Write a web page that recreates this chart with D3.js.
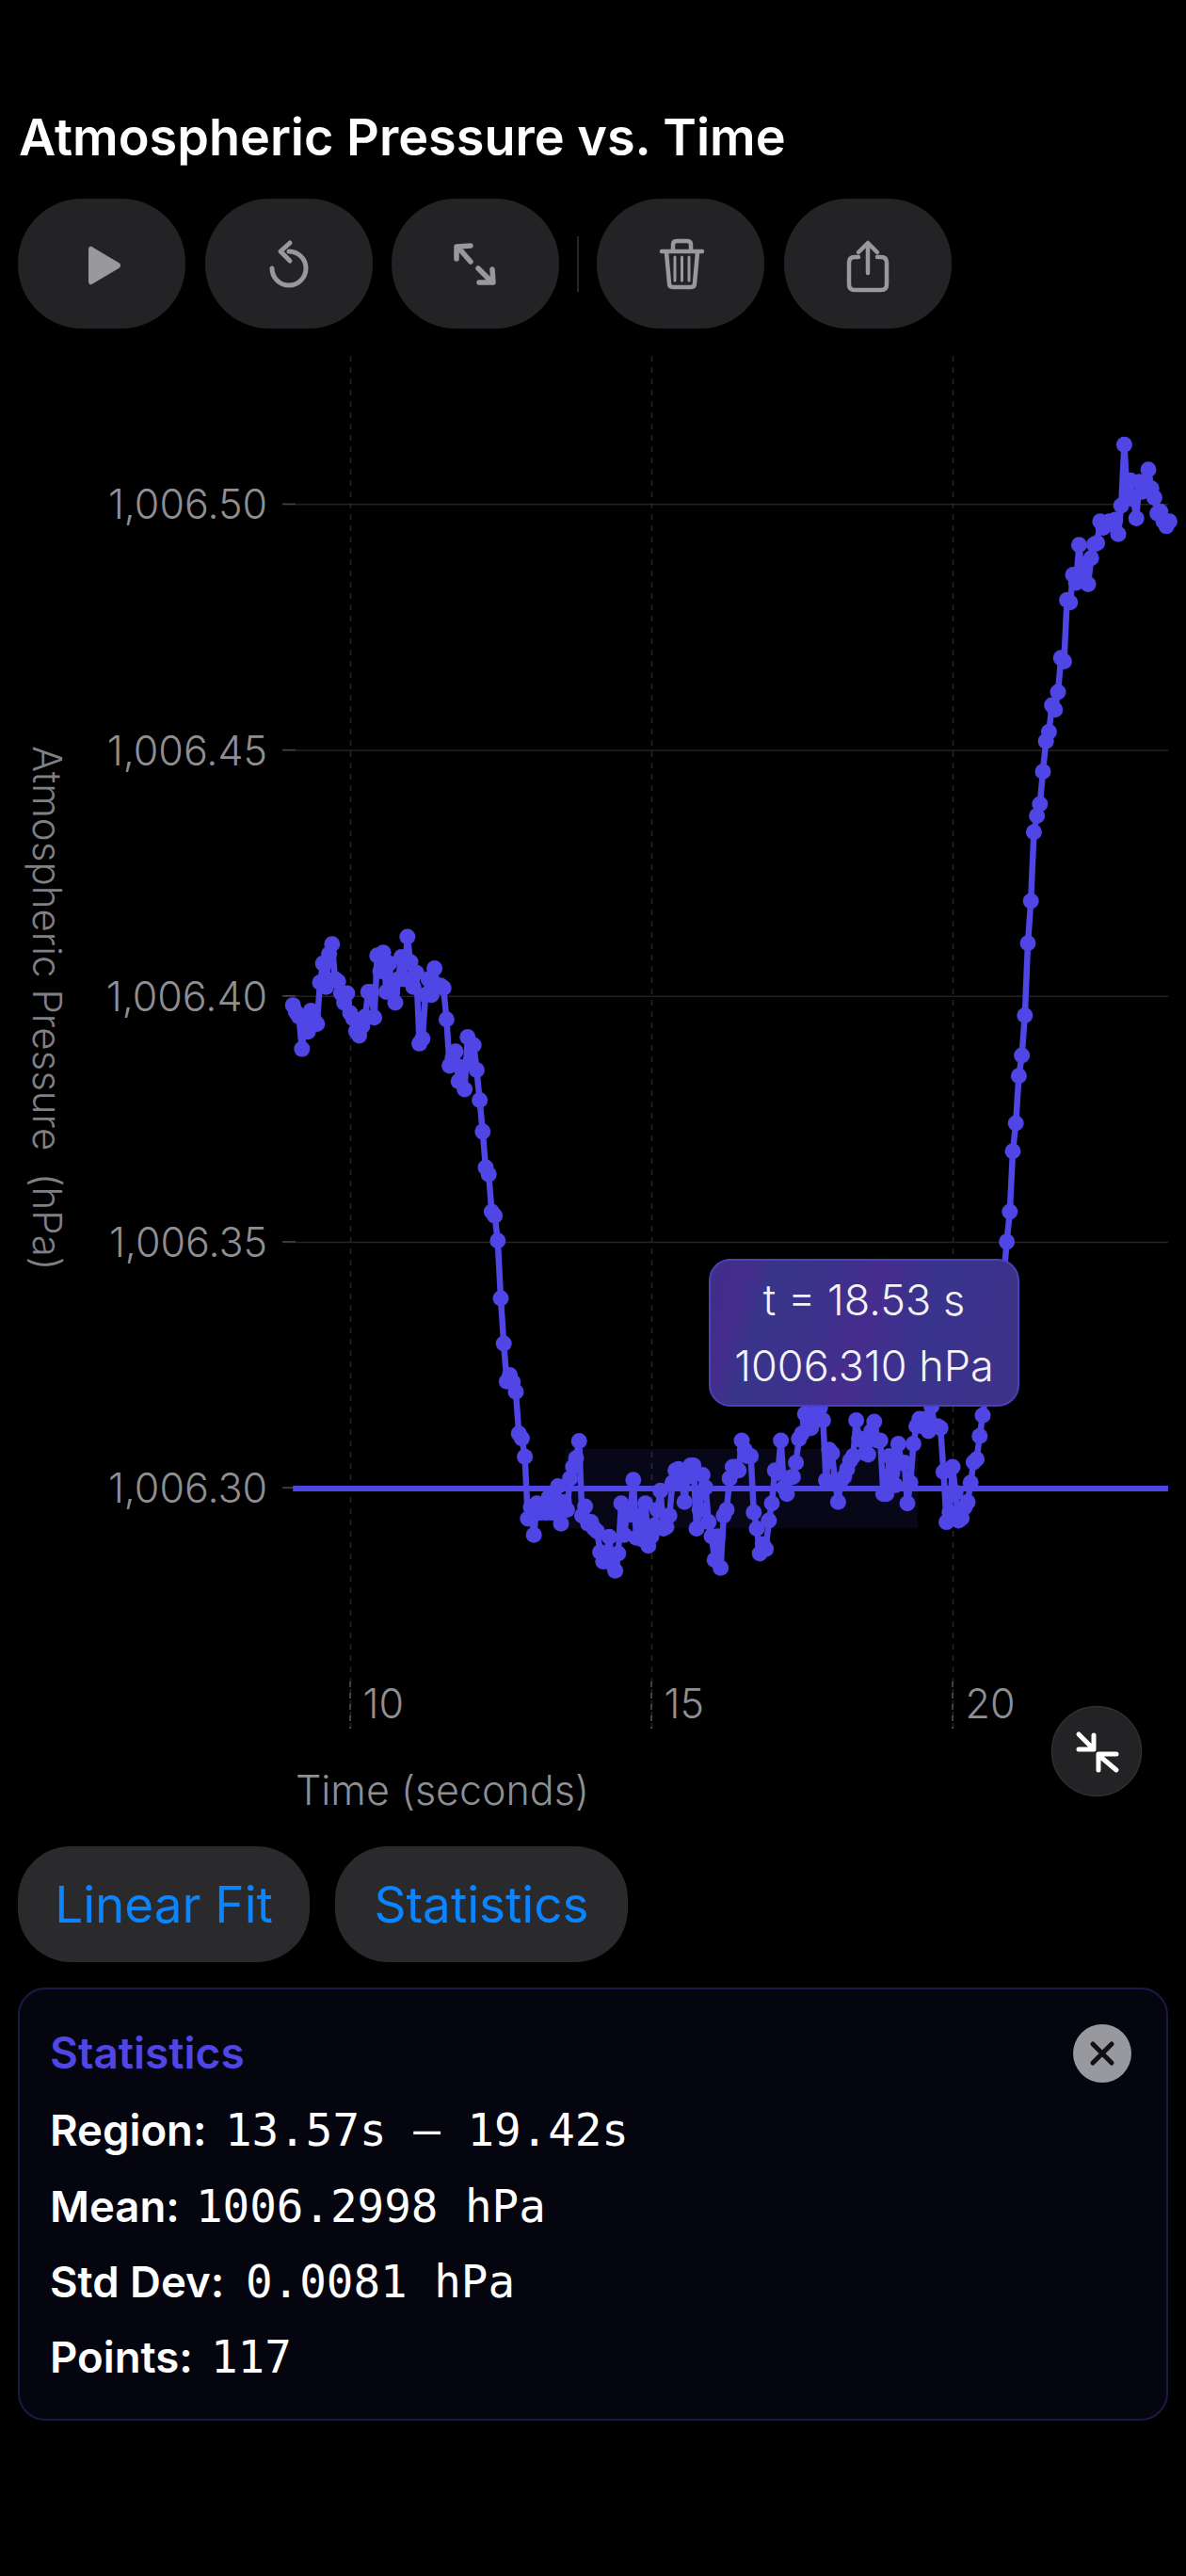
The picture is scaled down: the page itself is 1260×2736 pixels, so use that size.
<!DOCTYPE html>
<html>
<head>
<meta charset="utf-8">
<title>Atmospheric Pressure vs. Time</title>
<script src="https://cdn.jsdelivr.net/npm/d3@7"></script>
<style>
  html, body { margin: 0; padding: 0; background: #000; }
  svg { display: block; font-family: Inter, "Noto Sans", sans-serif; }
  .mono { font-family: "DejaVu Sans Mono", monospace; }
</style>
</head>
<body>
<svg id="chart" width="1260" height="2736"></svg>
<script>
const times = [
  9.05, 9.10, 9.15, 9.20, 9.25, 9.30, 9.35, 9.40, 9.45, 9.50,
  9.55, 9.60, 9.65, 9.70, 9.75, 9.80, 9.85, 9.90, 9.95, 10.00,
  10.05, 10.10, 10.15, 10.20, 10.25, 10.30, 10.35, 10.40, 10.45, 10.50,
  10.55, 10.60, 10.65, 10.70, 10.75, 10.80, 10.85, 10.90, 10.95, 11.00,
  11.05, 11.10, 11.15, 11.20, 11.25, 11.30, 11.35, 11.40, 11.45, 11.50,
  11.55, 11.60, 11.65, 11.70, 11.75, 11.80, 11.85, 11.90, 11.95, 12.00,
  12.05, 12.10, 12.15, 12.20, 12.25, 12.30, 12.35, 12.40, 12.45, 12.50,
  12.55, 12.60, 12.65, 12.70, 12.75, 12.80, 12.85, 12.90, 12.95, 13.00,
  13.05, 13.10, 13.15, 13.20, 13.25, 13.30, 13.35, 13.40, 13.45, 13.50,
  13.55, 13.60, 13.65, 13.70, 13.75, 13.80, 13.85, 13.90, 13.95, 14.00,
  14.05, 14.10, 14.15, 14.20, 14.25, 14.30, 14.35, 14.40, 14.45, 14.50,
  14.55, 14.60, 14.65, 14.70, 14.75, 14.80, 14.85, 14.90, 14.95, 15.00,
  15.05, 15.10, 15.15, 15.20, 15.25, 15.30, 15.35, 15.40, 15.45, 15.50,
  15.55, 15.60, 15.65, 15.70, 15.75, 15.80, 15.85, 15.90, 15.95, 16.00,
  16.05, 16.10, 16.15, 16.20, 16.25, 16.30, 16.35, 16.40, 16.45, 16.50,
  16.55, 16.60, 16.65, 16.70, 16.75, 16.80, 16.85, 16.90, 16.95, 17.00,
  17.05, 17.10, 17.15, 17.20, 17.25, 17.30, 17.35, 17.40, 17.45, 17.50,
  17.55, 17.60, 17.65, 17.70, 17.75, 17.80, 17.85, 17.90, 17.95, 18.00,
  18.05, 18.10, 18.15, 18.20, 18.25, 18.30, 18.35, 18.40, 18.45, 18.50,
  18.55, 18.60, 18.65, 18.70, 18.75, 18.80, 18.85, 18.90, 18.95, 19.00,
  19.05, 19.10, 19.15, 19.20, 19.25, 19.30, 19.35, 19.40, 19.45, 19.50,
  19.55, 19.60, 19.65, 19.70, 19.75, 19.80, 19.85, 19.90, 19.95, 20.00,
  20.05, 20.10, 20.15, 20.20, 20.25, 20.30, 20.35, 20.40, 20.45, 20.50,
  20.55, 20.60, 20.65, 20.70, 20.75, 20.80, 20.85, 20.90, 20.95, 21.00,
  21.05, 21.10, 21.15, 21.20, 21.25, 21.30, 21.35, 21.40, 21.45, 21.50,
  21.55, 21.60, 21.65, 21.70, 21.75, 21.80, 21.85, 21.90, 21.95, 22.00,
  22.05, 22.10, 22.15, 22.20, 22.25, 22.30, 22.35, 22.40, 22.45, 22.50,
  22.55, 22.60, 22.65, 22.70, 22.75, 22.80, 22.85, 22.90, 22.95, 23.00,
  23.05, 23.10, 23.15, 23.20, 23.25, 23.30, 23.35, 23.40, 23.45, 23.50,
  23.55, 23.60
];
const pressures = [
  1006.3981, 1006.3967, 1006.3958, 1006.3892, 1006.3951, 1006.3927, 1006.3970, 1006.3951, 1006.3943, 1006.4027,
  1006.4066, 1006.4018, 1006.4085, 1006.4105, 1006.4034, 1006.4029, 1006.4005, 1006.3986, 1006.4005, 1006.3965,
  1006.3954, 1006.3928, 1006.3919, 1006.3938, 1006.3958, 1006.4008, 1006.4008, 1006.3956, 1006.4082, 1006.4050,
  1006.4088, 1006.4008, 1006.4066, 1006.4008, 1006.3986, 1006.4034, 1006.4079, 1006.4034, 1006.4120, 1006.4069,
  1006.4018, 1006.4047, 1006.3903, 1006.3913, 1006.4002, 1006.4034, 1006.4002, 1006.4056, 1006.4021, 1006.4021,
  1006.4016, 1006.3952, 1006.3858, 1006.3874, 1006.3887, 1006.3826, 1006.3855, 1006.3810, 1006.3916, 1006.3868,
  1006.3900, 1006.3849, 1006.3788, 1006.3724, 1006.3651, 1006.3637, 1006.3561, 1006.3553, 1006.3502, 1006.3385,
  1006.3293, 1006.3216, 1006.3229, 1006.3215, 1006.3195, 1006.3110, 1006.3100, 1006.3063, 1006.2937, 1006.2960,
  1006.2904, 1006.2968, 1006.2949, 1006.2960, 1006.2949, 1006.2981, 1006.2949, 1006.2968, 1006.3003, 1006.2927,
  1006.2971, 1006.2955, 1006.3019, 1006.3042, 1006.3060, 1006.3095, 1006.2943, 1006.2962, 1006.2927, 1006.2930,
  1006.2917, 1006.2911, 1006.2869, 1006.2850, 1006.2865, 1006.2900, 1006.2845, 1006.2831, 1006.2866, 1006.2968,
  1006.2904, 1006.2955, 1006.2945, 1006.3016, 1006.2898, 1006.2943, 1006.2895, 1006.2968, 1006.2882, 1006.2901,
  1006.2923, 1006.2955, 1006.2994, 1006.2917, 1006.2920, 1006.2943, 1006.3010, 1006.3035, 1006.3038, 1006.3022,
  1006.2971, 1006.3022, 1006.3045, 1006.3045, 1006.2917, 1006.2955, 1006.3026, 1006.3000, 1006.2930, 1006.2901,
  1006.2853, 1006.2901, 1006.2837, 1006.2943, 1006.2955, 1006.3019, 1006.3042, 1006.3042, 1006.3035, 1006.3096,
  1006.3077, 1006.3064, 1006.3064, 1006.2950, 1006.2917, 1006.2866, 1006.2885, 1006.2875, 1006.2933, 1006.2968,
  1006.3035, 1006.3030, 1006.3096, 1006.3000, 1006.2987, 1006.3020, 1006.3022, 1006.3051, 1006.3099, 1006.3110,
  1006.3150, 1006.3135, 1006.3121, 1006.3134, 1006.3165, 1006.3163, 1006.3137, 1006.3015, 1006.3077, 1006.3070,
  1006.3010, 1006.2971, 1006.3015, 1006.3022, 1006.3038, 1006.3055, 1006.3064, 1006.3137, 1006.3100, 1006.3096,
  1006.3070, 1006.3067, 1006.3115, 1006.3134, 1006.3096, 1006.3096, 1006.2987, 1006.2987, 1006.3064, 1006.3030,
  1006.3005, 1006.3089, 1006.3050, 1006.3051, 1006.2968, 1006.3010, 1006.3089, 1006.3125, 1006.3140, 1006.3125,
  1006.3140, 1006.3115, 1006.3165, 1006.3125, 1006.3125, 1006.3121, 1006.3032, 1006.2930, 1006.2950, 1006.3042,
  1006.2990, 1006.2933, 1006.2938, 1006.2960, 1006.2971, 1006.3010, 1006.3052, 1006.3058, 1006.3105, 1006.3147,
  1006.3190, 1006.3222, 1006.3258, 1006.3305, 1006.3340, 1006.3392, 1006.3431, 1006.3500, 1006.3561, 1006.3684,
  1006.3741, 1006.3837, 1006.3879, 1006.3960, 1006.4107, 1006.4193, 1006.4333, 1006.4366, 1006.4390, 1006.4456,
  1006.4518, 1006.4537, 1006.4591, 1006.4582, 1006.4618, 1006.4687, 1006.4680, 1006.4805, 1006.4800, 1006.4856,
  1006.4840, 1006.4917, 1006.4856, 1006.4875, 1006.4837, 1006.4890, 1006.4918, 1006.4921, 1006.4965, 1006.4952,
  1006.4962, 1006.4965, 1006.4958, 1006.4968, 1006.4939, 1006.4997, 1006.5121, 1006.5015, 1006.5048, 1006.5010,
  1006.4971, 1006.5045, 1006.5025, 1006.5035, 1006.5070, 1006.5032, 1006.5013, 1006.4981, 1006.4985, 1006.4965,
  1006.4955, 1006.4965
];
const yTicks = [1006.30, 1006.35, 1006.40, 1006.45, 1006.50];
const xTicks = [10, 15, 20];
const regionTimes = [13.57, 19.42];
const regionMean = 1006.2998;
const regionStd = 0.0081;
const meanLineTimes = [9.05, 23.578];
const statLabels = ["Region:", "Mean:", "Std Dev:", "Points:"];
const statValues = ["13.57s \u2014 19.42s", "1006.2998 hPa", "0.0081 hPa", "117"];
const fitButtons = ["Linear Fit", "Statistics"];

const svg = d3.select("#chart");
const ACCENT = "#4f46e5";
const GREY = "#8e8e93";

// gradient for the frosted tooltip
const grad = svg.append("defs").append("linearGradient")
  .attr("id", "tipFill").attr("x1", 0).attr("x2", 1).attr("y1", 0).attr("y2", 0.15);
[["0", "#3f2f88"], [".12", "#452c8c"], [".22", "#38358a"], [".42", "#3c318b"],
 [".55", "#472c8e"], [".75", "#38348d"], ["1", "#3e318a"]].forEach(s => {
  grad.append("stop").attr("offset", s[0]).attr("stop-color", s[1]);
});

svg.append("text").text("Atmospheric Pressure vs. Time")
  .attr("x", 20).attr("y", 165)
  .attr("fill", "#fff").attr("font-size", 54).attr("font-weight", 600);

/* toolbar */
const toolbar = svg.append("g");
[19, 218, 416, 634, 833].forEach(bx => {
  toolbar.append("rect").attr("x", bx).attr("y", 211).attr("width", 178).attr("height", 138)
    .attr("rx", 68).attr("fill", "#232325");
});
toolbar.append("line").attr("x1", 614).attr("x2", 614).attr("y1", 251).attr("y2", 310)
  .attr("stroke", "#333").attr("stroke-width", 1.5);

const icons = toolbar.append("g").attr("fill", "none").attr("stroke", "#98989d")
  .attr("stroke-width", 4.5).attr("stroke-linecap", "round").attr("stroke-linejoin", "round");
icons.append("path").attr("d", "M95 265 L95 299 Q95 303 99 300 L126 284 Q128 282 126 280 L99 264 Q95 261 95 265Z")
  .attr("fill", "#98989d").attr("stroke-width", 2);
// reset
icons.append("path").attr("d", "M289 285 A18 18 0 1 0 307 267").attr("stroke-width", 5);
icons.append("path").attr("d", "M308 258 L298 267 L308 277").attr("stroke-width", 5);
// expand
icons.append("path").attr("d", "M487 263 L500 278 M485 275 L485 262 L500 261 M508 285 L523 300 M523 286 L524 300 L509 300")
  .attr("stroke-width", 5.5);
// trash
icons.append("path").attr("d", "M703 267 L746 267 M715 265 L715 260 Q715 256 719 256 L730 256 Q734 256 734 260 L734 265");
icons.append("path").attr("d", "M708 268 L711 301 Q711 305 715 305 L734 305 Q738 305 738 301 L741 268");
icons.append("path").attr("d", "M717 273 L717 298 M724.5 273 L724.5 298 M732 273 L732 298").attr("stroke-width", 3);
// share
icons.append("path").attr("d", "M912 273 L908 273 Q902 273 902 279 L902 302 Q902 308 908 308 L936 308 Q942 308 942 302 L942 279 Q942 273 936 273 L932 273");
icons.append("path").attr("d", "M922 290 L922 259 M912 268 L922 258 L932 268");

/* scales */
const x = d3.scaleLinear().domain([8.875, 23.578]).range([300, 1241]);
const y = d3.scaleLinear().domain([1006.251, 1006.5307]).range([1836, 375]);

/* axes with their grid lines */
const yAxis = svg.append("g").attr("transform", "translate(300,0)")
  .call(d3.axisLeft(y).tickValues(yTicks).tickFormat(d3.format(",.2f")).tickSize(-941));
yAxis.select(".domain").remove();
yAxis.selectAll("line").attr("stroke", "#232323").attr("stroke-width", 1.5);
yAxis.selectAll("text")
  .attr("x", -16).attr("dy", "0.36em")
  .attr("fill", GREY).attr("font-size", 43).attr("font-family", "Inter").attr("font-weight", 300);
svg.append("g").selectAll("line").data(yTicks).join("line")
  .attr("x1", 300).attr("x2", 314).attr("y1", d => y(d)).attr("y2", d => y(d))
  .attr("stroke", "#444").attr("stroke-width", 1.5);

const xAxis = svg.append("g").attr("transform", "translate(0,1836)")
  .call(d3.axisBottom(x).tickValues(xTicks).tickSize(-1461));
xAxis.select(".domain").remove();
xAxis.selectAll("line").attr("stroke", "#262626").attr("stroke-width", 1.5).attr("stroke-dasharray", "6 6");
xAxis.selectAll("text")
  .attr("x", 13).attr("y", -11).attr("dy", 0).attr("text-anchor", "start")
  .attr("fill", GREY).attr("font-size", 43).attr("font-family", "Inter").attr("font-weight", 300);
svg.append("g").selectAll("line").data(xTicks).join("line")
  .attr("x1", d => x(d)).attr("x2", d => x(d)).attr("y1", 1786).attr("y2", 1836)
  .attr("stroke", "#555").attr("stroke-width", 1.5).attr("stroke-dasharray", "6 6");

svg.append("text").text("Time (seconds)")
  .attr("x", 314).attr("y", 1917)
  .attr("fill", GREY).attr("font-size", 43).attr("font-weight", 300);
svg.append("text").text("Atmospheric Pressure  (hPa)")
  .attr("transform", "translate(35,792) rotate(90)")
  .style("white-space", "pre")
  .attr("fill", "#7f7f84").attr("font-size", 42).attr("font-weight", 300);

/* selected region: mean +/- std */
svg.append("rect")
  .attr("x", x(regionTimes[0])).attr("width", x(regionTimes[1]) - x(regionTimes[0]))
  .attr("y", y(regionMean + regionStd)).attr("height", y(regionMean - regionStd) - y(regionMean + regionStd))
  .attr("fill", ACCENT).attr("fill-opacity", 0.1);

/* series */
const readings = times.map((t, i) => ({ t: t, p: pressures[i] }));
const line = d3.line().x(d => x(d.t)).y(d => y(d.p));
svg.append("path").datum(readings)
  .attr("d", line).attr("fill", "none").attr("stroke", ACCENT)
  .attr("stroke-width", 6.5).attr("stroke-linejoin", "round");
svg.append("g").selectAll("circle").data(readings).join("circle")
  .attr("cx", d => x(d.t)).attr("cy", d => y(d.p)).attr("r", 8.5).attr("fill", ACCENT);

svg.append("line")
  .attr("x1", x(meanLineTimes[0])).attr("x2", x(meanLineTimes[1]))
  .attr("y1", y(regionMean)).attr("y2", y(regionMean))
  .attr("stroke", ACCENT).attr("stroke-width", 6);

/* tooltip */
const tip = svg.append("g");
tip.append("rect").attr("x", 754).attr("y", 1338).attr("width", 328).attr("height", 155).attr("rx", 22)
  .attr("fill", "url(#tipFill)").attr("stroke", "#4a40b8").attr("stroke-width", 2);
tip.append("text").text("t = 18.53 s").attr("x", 918).attr("y", 1397).attr("text-anchor", "middle")
  .attr("fill", "#f2f2f7").attr("font-size", 45).attr("font-weight", 300);
tip.append("text").text("1006.310 hPa").attr("x", 918).attr("y", 1467).attr("text-anchor", "middle")
  .attr("fill", "#f2f2f7").attr("font-size", 45).attr("font-weight", 300);

/* collapse button */
svg.append("circle").attr("cx", 1165).attr("cy", 1860).attr("r", 47.5)
  .attr("fill", "#232325").attr("stroke", "#2f2f31").attr("stroke-width", 1.5);
svg.append("path")
  .attr("d", "M1146 1842 L1161 1857 M1162 1843 L1162 1858 L1146 1858 M1186 1880 L1167 1864 M1167 1880 L1167 1863 L1186 1863")
  .attr("fill", "none").attr("stroke", "#fff").attr("stroke-width", 5).attr("stroke-linecap", "round").attr("stroke-linejoin", "round");

/* fit buttons */
const pillX = [19, 356], pillW = [310, 311];
fitButtons.forEach((label, i) => {
  svg.append("rect").attr("x", pillX[i]).attr("y", 1961).attr("width", pillW[i]).attr("height", 123)
    .attr("rx", 56).attr("fill", "#2a2a2c");
  svg.append("text").text(label).attr("x", pillX[i] + pillW[i] / 2).attr("y", 2042)
    .attr("text-anchor", "middle").attr("fill", "#0a84ff").attr("font-size", 53);
});

/* stats panel */
svg.append("rect").attr("x", 20).attr("y", 2112).attr("width", 1220).attr("height", 458).attr("rx", 28)
  .attr("fill", "#05050f").attr("stroke", "#1b1a47").attr("stroke-width", 2);
svg.append("text").text("Statistics").attr("x", 53).attr("y", 2197)
  .attr("fill", ACCENT).attr("font-size", 46).attr("font-weight", 600);
svg.append("circle").attr("cx", 1171).attr("cy", 2181).attr("r", 31).attr("fill", "#98989f");
svg.append("path").attr("d", "M1161 2171 L1181 2191 M1181 2171 L1161 2191")
  .attr("stroke", "#111").attr("stroke-width", 5).attr("stroke-linecap", "round");

const statBase = [2279, 2360, 2440, 2520], statValueX = [239, 208, 261, 224];
statLabels.forEach((label, i) => {
  svg.append("text").text(label).attr("x", 53).attr("y", statBase[i])
    .attr("fill", "#fff").attr("font-size", 45.5).attr("font-weight", 600);
  svg.append("text").attr("class", "mono").text(statValues[i]).attr("x", statValueX[i]).attr("y", statBase[i])
    .attr("fill", "#fff").attr("font-size", 47.5);
});
</script>
</body>
</html>
